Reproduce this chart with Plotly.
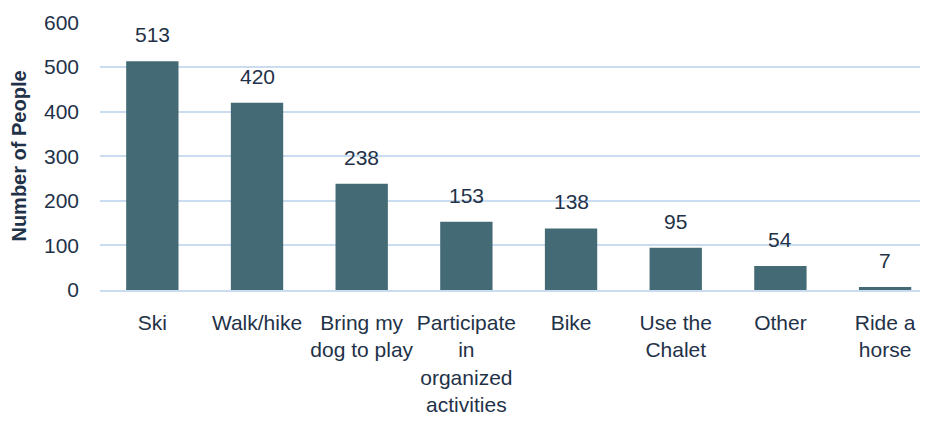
import plotly.graph_objects as go

categories = ["Ski", "Walk/hike", "Bring my<br>dog to play", "Participate<br>in<br>organized<br>activities",
              "Bike", "Use the<br>Chalet", "Other", "Ride a<br>horse"]
values = [513, 420, 238, 153, 138, 95, 54, 7]
y_ticks = [0, 100, 200, 300, 400, 500, 600]

BAR = "#436a75"
TXT = "#1f3248"
GRID = "#c9dcf0"
FONT = "Liberation Sans, Arial, sans-serif"

fig = go.Figure()
fig.add_trace(go.Bar(x=list(range(len(categories))), y=values, marker=dict(color=BAR, line=dict(width=0)),
                     width=0.5, hoverinfo="skip"))

for i, v in enumerate(values):
    fig.add_annotation(x=i, y=v, text=str(v), showarrow=False, yanchor="bottom", yshift=13,
                       font=dict(family=FONT, size=21, color=TXT))

fig.update_layout(
    width=920, height=413,
    margin=dict(l=92, r=0, t=14, b=131),
    paper_bgcolor="white", plot_bgcolor="white",
    showlegend=False,
    font=dict(family=FONT, size=21, color=TXT),
)
fig.update_xaxes(range=[-0.5, 7.41], tickmode="array", tickvals=list(range(len(categories))),
                 ticktext=categories, showgrid=False, showline=True, linecolor=GRID, linewidth=1.5,
                 ticks="", ticklabelstandoff=13, tickfont=dict(family=FONT, size=21, color=TXT),
                 automargin=False, zeroline=False)
fig.update_yaxes(range=[0, 601], tickmode="array", tickvals=y_ticks, showgrid=True, gridcolor=GRID,
                 gridwidth=1.5, zeroline=False, showline=False, ticks="", ticklabelstandoff=20,
                 tickfont=dict(family=FONT, size=21, color=TXT), automargin=False,
                 title=dict(text="<b>Number of People</b>", standoff=12,
                            font=dict(family=FONT, size=20, color=TXT)))

fig.write_html("out.html")
